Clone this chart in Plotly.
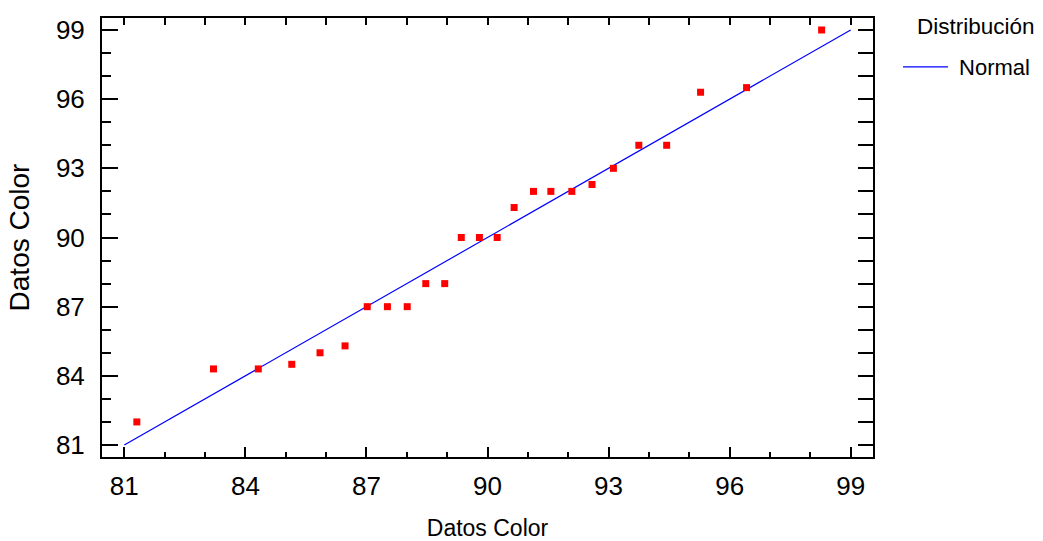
import plotly.graph_objects as go

# Theoretical normal quantiles (x) against ordered observations (y)
quantiles = [81.31, 83.21, 84.32, 85.15, 85.85, 86.47, 87.02, 87.52, 88.01,
             88.47, 88.94, 89.35, 89.80, 90.24, 90.66, 91.14, 91.57, 92.09,
             92.59, 93.12, 93.75, 94.44, 95.28, 96.42, 98.28]
observed = [82.0, 84.3, 84.3, 84.5, 85.0, 85.3, 87.0, 87.0, 87.0,
            88.0, 88.0, 90.0, 90.0, 90.0, 91.3, 92.0, 92.0, 92.0,
            92.3, 93.0, 94.0, 94.0, 96.3, 96.5, 99.0]

# Reference line of the fitted normal distribution
line_x = [81, 99]
line_y = [81, 99]

tick_vals = [81, 84, 87, 90, 93, 96, 99]
tick_text = ["81", "84", "87", "90", "93", "96", "99"]
x_range = [80.447, 99.553]
y_range = [80.48, 99.52]

FONT = "Liberation Sans, Arial, sans-serif"

fig = go.Figure()
fig.add_trace(go.Scatter(
    x=line_x, y=line_y, mode="lines", name="\u00a0Normal",
    line=dict(color="#0000ff", width=1.2),
))
fig.add_trace(go.Scatter(
    x=quantiles, y=observed, mode="markers", showlegend=False,
    marker=dict(symbol="square", size=7, color="#ff0000",
                line=dict(width=0)),
))

fig.update_layout(
    width=1043, height=541,
    margin=dict(l=102, r=170, t=18, b=84, autoexpand=False),
    paper_bgcolor="white", plot_bgcolor="white",
    font=dict(family=FONT, size=26, color="black"),
    xaxis=dict(
        range=x_range, autorange=False, tickvals=tick_vals, ticktext=tick_text,
        ticks="inside", ticklen=10, tickwidth=1.5, tickcolor="black",
        minor=dict(ticks="inside", dtick=1, ticklen=5, tickwidth=1.5,
                   tickcolor="black", showgrid=False),
        showline=True, linecolor="black", linewidth=2, showgrid=False,
        zeroline=False, ticklabelstandoff=5, automargin=False,
        tickfont=dict(family=FONT, size=26),
        title=dict(text="Datos Color", standoff=21,
                   font=dict(family=FONT, size=23)),
    ),
    xaxis2=dict(
        range=x_range, autorange=False, overlaying="x", side="top",
        anchor="y", dtick=1, tick0=81, ticks="inside", ticklen=7,
        tickwidth=1.5, tickcolor="black", showticklabels=False,
        showline=True, linecolor="black", linewidth=2, showgrid=False,
        zeroline=False, automargin=False,
    ),
    yaxis=dict(
        range=y_range, autorange=False, tickvals=tick_vals, ticktext=tick_text,
        ticks="inside", ticklen=16, tickwidth=1.5, tickcolor="black",
        minor=dict(ticks="inside", dtick=1, ticklen=9, tickwidth=1.5,
                   tickcolor="black", showgrid=False),
        showline=True, linecolor="black", linewidth=2, showgrid=False,
        zeroline=False, ticklabelstandoff=10, automargin=False,
        tickfont=dict(family=FONT, size=26),
        title=dict(text="Datos Color", standoff=18,
                   font=dict(family=FONT, size=28)),
    ),
    yaxis2=dict(
        range=y_range, autorange=False, overlaying="y", side="right",
        anchor="x", dtick=1, tick0=81, ticks="inside", ticklen=15,
        tickwidth=1.5, tickcolor="black", showticklabels=False,
        showline=True, linecolor="black", linewidth=2, showgrid=False,
        zeroline=False, automargin=False,
    ),
    legend=dict(
        x=1.0324, y=0.936, xanchor="left", yanchor="top",
        bgcolor="rgba(0,0,0,0)", borderwidth=0, itemwidth=45,
        font=dict(family=FONT, size=22),
    ),
    showlegend=True,
    annotations=[dict(
        text="Distribución", xref="paper", yref="paper",
        x=1.2127, y=0.9795, xanchor="right", yanchor="middle",
        showarrow=False, font=dict(family=FONT, size=22.5, color="black"),
    )],
)

# Empty traces so the mirrored top/right axes are laid out
fig.add_trace(go.Scatter(x=[], y=[], xaxis="x2", yaxis="y2",
                         showlegend=False, hoverinfo="skip"))

fig.write_html("out.html")
